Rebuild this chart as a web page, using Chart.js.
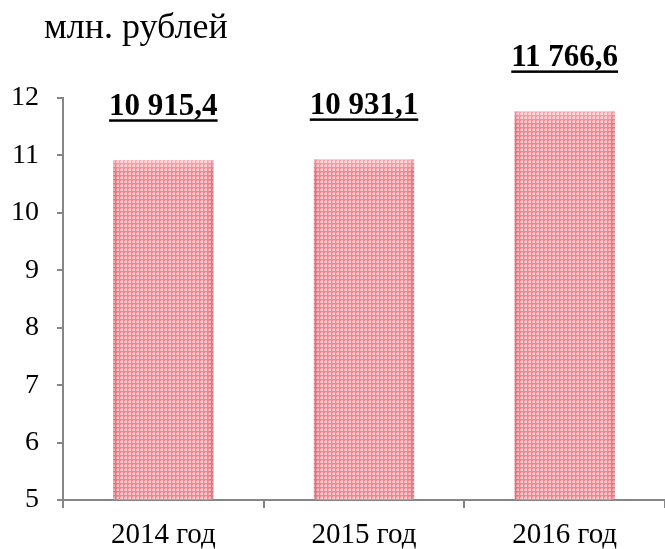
<!DOCTYPE html>
<html><head><meta charset="utf-8">
<script src="https://cdn.jsdelivr.net/npm/chart.js@4/dist/chart.umd.min.js"></script>
<style>html,body{margin:0;padding:0;background:#fff}#wrap{width:665px;height:549px;position:relative}</style>
</head><body><div id="wrap"><canvas id="c" width="665" height="549"></canvas></div>
<script>
const categories = ["2014 год", "2015 год", "2016 год"];
const values = [10.9154, 10.9311, 11.7666];
const valueLabels = ["10 915,4", "10 931,1", "11 766,6"];
const unitTitle = "млн. рублей";
const yMin = 5, yMax = 12, yStep = 1;

const SERIF = '"Liberation Serif", "Times New Roman", serif';

// dotted pink pattern
const pc = document.createElement('canvas');
pc.width = 4; pc.height = 4;
const px = pc.getContext('2d');
px.fillStyle = '#F2868E'; px.fillRect(0,0,4,4);
px.fillStyle = '#FCD4D7'; px.fillRect(1,1,2,2);
px.fillStyle = '#F7AEB4'; px.fillRect(0,1,1,2); px.fillRect(1,0,2,1);
const pattern = px.createPattern(pc, 'repeat');

const overlay = {
  id: 'overlay',
  afterDatasetsDraw(chart) {
    const ctx = chart.ctx;
    const area = chart.chartArea;
    const meta = chart.getDatasetMeta(0);
    meta.data.forEach((bar, i) => {
      const p = bar.getProps(['x','y','base','width'], true);
      const l = p.x - p.width/2, r = p.x + p.width/2;
      const bottom = Math.min(p.base, area.bottom);
      ctx.save();
      let g = ctx.createLinearGradient(l, 0, r, 0);
      g.addColorStop(0, 'rgba(180,60,75,0.3)');
      g.addColorStop(0.07, 'rgba(180,60,75,0)');
      g.addColorStop(0.93, 'rgba(180,60,75,0)');
      g.addColorStop(1, 'rgba(180,60,75,0.3)');
      ctx.fillStyle = g;
      ctx.fillRect(l, p.y, p.width, bottom - p.y);
      let g2 = ctx.createLinearGradient(0, p.y, 0, p.y + 12);
      g2.addColorStop(0, 'rgba(255,255,255,0.3)');
      g2.addColorStop(1, 'rgba(255,255,255,0)');
      ctx.fillStyle = g2;
      ctx.fillRect(l, p.y, p.width, 12);
      // value label
      ctx.font = 'bold 31px ' + SERIF;
      ctx.fillStyle = '#000';
      ctx.textAlign = 'center';
      ctx.textBaseline = 'alphabetic';
      const ty = p.y - 45;
      ctx.fillText(valueLabels[i], p.x, ty);
      const w = ctx.measureText(valueLabels[i]).width;
      ctx.fillRect(p.x - w/2, ty + 4, w, 2.5);
      ctx.restore();
    });
  },
  afterDraw(chart) {
    const ctx = chart.ctx;
    ctx.save();
    ctx.font = '36px ' + SERIF;
    ctx.fillStyle = '#000';
    ctx.textBaseline = 'alphabetic';
    ctx.textAlign = 'left';
    ctx.fillText(unitTitle, 44, 38);
    ctx.restore();
  }
};

new Chart(document.getElementById('c'), {
  type: 'bar',
  data: {
    labels: categories,
    datasets: [{
      data: values,
      backgroundColor: pattern,
      borderWidth: 0,
      barPercentage: 0.5,
      categoryPercentage: 1
    }]
  },
  options: {
    responsive: false,
    animation: false,
    devicePixelRatio: 1,
    layout: { padding: { top: 98, right: 0, left: 0, bottom: 0 } },
    plugins: { legend: { display: false }, tooltip: { enabled: false } },
    scales: {
      y: {
        min: yMin, max: yMax,
        ticks: { stepSize: yStep, color: '#000', font: { family: SERIF, size: 28 }, padding: 18 },
        grid: { drawOnChartArea: false, drawTicks: true, tickLength: 6, color: '#868686', lineWidth: 2 },
        border: { display: true, color: '#868686', width: 2 },
        afterFit(s) { s.width = 63; }
      },
      x: {
        offset: true,
        ticks: { color: '#000', font: { family: SERIF, size: 29 }, padding: 10 },
        grid: { offset: true, drawOnChartArea: false, drawTicks: true, tickLength: 8, color: '#868686', lineWidth: 2 },
        border: { display: true, color: '#868686', width: 2 },
        afterFit(s) { s.height = 49; }
      }
    }
  },
  plugins: [overlay]
});
</script></body></html>
